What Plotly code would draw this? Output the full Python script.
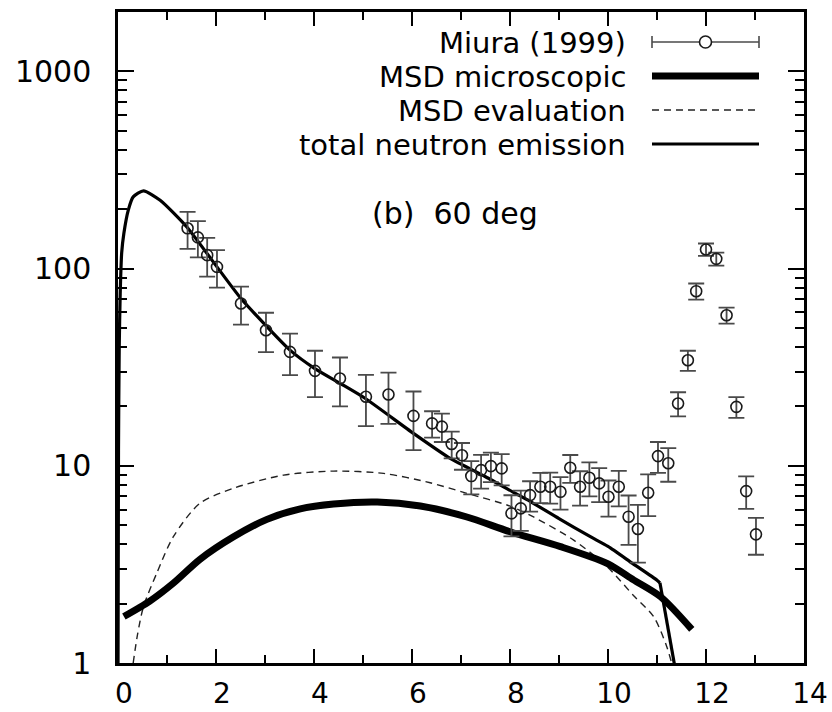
import plotly.graph_objects as go

# Miura (1999) measured neutron spectrum, 60 deg
exp_energy = [1.42, 1.63, 1.82, 2.02, 2.51, 3.02, 3.51, 4.02, 4.53, 5.06, 5.52, 6.03,
              6.41, 6.61, 6.81, 7.02, 7.21, 7.41, 7.61, 7.83, 8.03, 8.22, 8.41, 8.62,
              8.82, 9.03, 9.23, 9.43, 9.62, 9.82, 10.01, 10.22, 10.42, 10.61, 10.82,
              11.02, 11.23, 11.43, 11.63, 11.80, 12.00, 12.21, 12.42, 12.62, 12.82, 13.02]
exp_value = [160, 144, 117, 102, 66.5, 48.7, 37.8, 30.3, 27.7, 22.4, 23.0, 17.9,
             16.4, 15.8, 12.9, 11.3, 8.87, 9.51, 9.96, 9.7, 5.74, 6.08, 7.1, 7.83,
             7.83, 7.38, 9.77, 7.83, 8.7, 8.14, 6.97, 7.83, 5.52, 4.78, 7.3,
             11.2, 10.3, 20.7, 34.3, 76.8, 125, 112, 58, 19.9, 7.44, 4.49]
exp_error = [34, 30, 26, 22, 14.5, 11, 9, 8, 7.7, 6.5, 6.7, 5.9,
             2.5, 2.6, 2.0, 1.75, 1.7, 1.85, 1.7, 1.75, 1.35, 1.4, 1.25, 1.37,
             1.4, 1.38, 1.57, 1.55, 1.7, 1.6, 1.45, 1.6, 1.55, 1.55, 1.75,
             2.0, 2.0, 2.9, 4.0, 7.2, 9, 8.5, 5.4, 2.4, 1.4, 0.95]

# MSD microscopic calculation
micro_energy = [0.12, 0.65, 1.13, 1.67, 2.35, 3.04, 3.72, 4.4, 5.29, 6.17, 7.12, 8.0,
                9.03, 9.98, 10.52, 11.07, 11.71]
micro_value = [1.72, 2.06, 2.54, 3.35, 4.35, 5.35, 6.05, 6.4, 6.55, 6.25, 5.5, 4.63,
               3.89, 3.2, 2.64, 2.17, 1.48]

# MSD evaluation
eval_energy = [0.31, 0.4, 0.52, 0.79, 1.13, 1.67, 2.35, 3.38, 4.4, 5.42, 6.37, 7.12,
               8.0, 8.48, 9.3, 9.98, 10.52, 10.93, 11.2, 11.3, 11.36]
eval_value = [1.0, 1.4, 1.93, 2.85, 4.37, 6.45, 7.68, 8.97, 9.4, 9.15, 8.2, 7.25,
              6.25, 5.5, 4.2, 3.08, 2.2, 1.72, 1.21, 1.0, 0.9]

# Total neutron emission
total_energy = [0.0, 0.01, 0.025, 0.045, 0.075, 0.12, 0.21, 0.31, 0.52, 0.86, 1.40,
                2.02, 2.51, 3.0, 3.51, 4.01, 4.53, 5.04, 6.03, 6.78, 7.5, 8.11, 8.41,
                9.0, 9.64, 10.0, 10.5, 11.0, 11.06, 11.34, 11.42]
total_value = [0.9, 12, 40, 75, 120, 151, 198, 231, 248, 222, 163,
               102, 70.5, 52, 38.6, 31.2, 26.2, 22.0, 14.6, 10.9, 8.8, 7.25, 6.6,
               5.4, 4.37, 3.9, 3.2, 2.63, 2.55, 1.0, 0.8]
total_kink = 28  # index where the smooth part ends and the cutoff begins

x_ticks = [0, 2, 4, 6, 8, 10, 12, 14]
y_ticks = [1, 10, 100, 1000]
y_tick_labels = ["1", "10", "100", "1000"]
legend_labels = ["Miura (1999)", "MSD microscopic", "MSD evaluation", "total neutron emission"]
panel_label = "(b)\u00a0 60 deg"

W, H = 832, 712
ML, MR, MT, MB = 118, 28, 12, 49
PW, PH = W - ML - MR, H - MT - MB
FONT = "DejaVu Sans"


def px(x):
    return (x - ML) / PW


def py(y):
    return (H - MB - y) / PH


fig = go.Figure()

fig.add_trace(go.Scatter(x=eval_energy, y=eval_value, mode="lines",
                         line=dict(color="#222", width=1.4, dash="7px,5px", shape="spline", smoothing=0.8),
                         showlegend=False))
fig.add_trace(go.Scatter(x=micro_energy, y=micro_value, mode="lines",
                         line=dict(color="black", width=7, shape="spline", smoothing=0.8),
                         showlegend=False))
fig.add_trace(go.Scatter(x=total_energy[:total_kink + 1], y=total_value[:total_kink + 1], mode="lines",
                         line=dict(color="black", width=3.2, shape="spline", smoothing=0.6),
                         showlegend=False))
fig.add_trace(go.Scatter(x=total_energy[total_kink:], y=total_value[total_kink:], mode="lines",
                         line=dict(color="black", width=3.2),
                         showlegend=False))
fig.add_trace(go.Scatter(x=exp_energy, y=exp_value, mode="markers",
                         marker=dict(symbol="circle-open", size=11, color="#1a1a1a", line=dict(width=1.6)),
                         error_y=dict(type="data", array=exp_error, visible=True,
                                      color="#4a4a4a", thickness=1.8, width=8),
                         showlegend=False))

# Legend block: right-aligned labels with line samples
row_y = [42, 76, 110, 144]
text_right = 628
sx0, sx1 = 652, 759
shapes = []
annotations = []
for label, yy in zip(legend_labels, row_y):
    annotations.append(dict(x=px(text_right), y=py(yy + 1), xref="paper", yref="paper",
                            text=label, showarrow=False, xanchor="right", yanchor="middle",
                            height=30, valign="middle",
                            font=dict(family=FONT, size=29, color="black")))

# Miura sample: horizontal error bar with open circle
shapes.append(dict(type="line", xref="paper", yref="paper", x0=px(sx0), x1=px(sx1),
                   y0=py(row_y[0]), y1=py(row_y[0]), line=dict(color="#4a4a4a", width=1.6)))
for ex in (sx0, sx1):
    shapes.append(dict(type="line", xref="paper", yref="paper", x0=px(ex), x1=px(ex),
                       y0=py(row_y[0] - 6), y1=py(row_y[0] + 6), line=dict(color="#4a4a4a", width=1.6)))
cx = (sx0 + sx1) / 2
shapes.append(dict(type="circle", xref="paper", yref="paper", x0=px(cx - 6), x1=px(cx + 6),
                   y0=py(row_y[0] - 6), y1=py(row_y[0] + 6),
                   line=dict(color="#1a1a1a", width=1.6), fillcolor="white"))
shapes.append(dict(type="line", xref="paper", yref="paper", x0=px(sx0), x1=px(sx1),
                   y0=py(row_y[1]), y1=py(row_y[1]), line=dict(color="black", width=7)))
shapes.append(dict(type="line", xref="paper", yref="paper", x0=px(sx0), x1=px(sx1),
                   y0=py(row_y[2]), y1=py(row_y[2]), line=dict(color="#222", width=1.4, dash="7px,5px")))
shapes.append(dict(type="line", xref="paper", yref="paper", x0=px(sx0), x1=px(sx1),
                   y0=py(row_y[3]), y1=py(row_y[3]), line=dict(color="black", width=3.2)))

annotations.append(dict(x=px(455), y=py(213), xref="paper", yref="paper", text=panel_label,
                        showarrow=False, xanchor="center", yanchor="middle",
                        font=dict(family=FONT, size=30, color="black")))

axis_common = dict(showline=True, linecolor="black", linewidth=2.5, mirror="ticks",
                   ticks="inside", tickcolor="black", tickwidth=2.2, showgrid=False, zeroline=False,
                   automargin=False)

fig.update_layout(
    width=W, height=H,
    margin=dict(l=ML, r=MR, t=MT, b=MB, pad=0),
    paper_bgcolor="white", plot_bgcolor="white",
    xaxis=dict(range=[0, 14], tickvals=x_ticks, ticklen=14, ticklabelstandoff=4, ticklabelshift=6,
               tickfont=dict(family=FONT, size=28, color="black"),
               minor=dict(dtick=1, ticks="inside", ticklen=8, tickwidth=2.2, tickcolor="black"),
               **axis_common),
    yaxis=dict(type="log", range=[0, 3.301], tickvals=y_ticks, ticktext=y_tick_labels,
               ticklen=16, ticklabelstandoff=18,
               tickfont=dict(family=FONT, size=30, color="black"),
               minor=dict(dtick="D1", ticks="inside", ticklen=9, tickwidth=2.2, tickcolor="black"),
               **axis_common),
    shapes=shapes,
    annotations=annotations,
    showlegend=False,
)

fig.write_html("out.html")
